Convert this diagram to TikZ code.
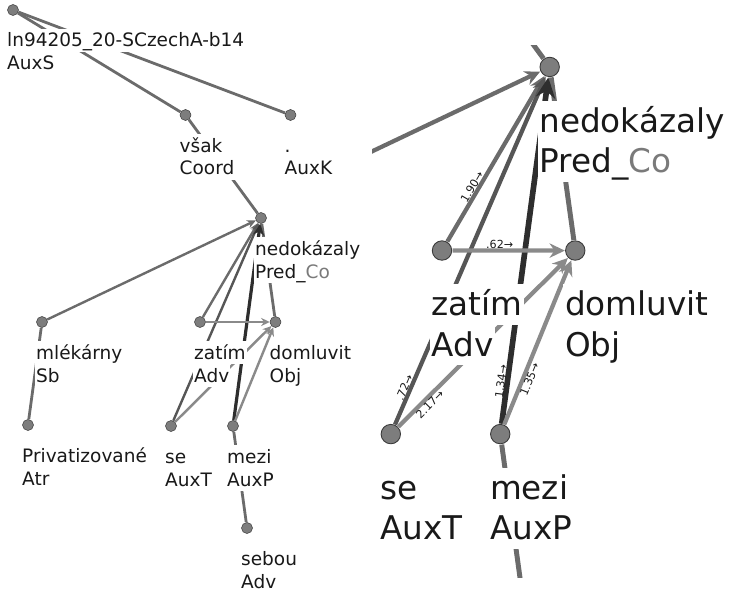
\documentclass[tikz,border=0pt]{standalone}
\usepackage{fontspec}
\setmainfont{DejaVu Sans}
\usetikzlibrary{arrows.meta}

\definecolor{dotfill}{HTML}{7D7D7D}
\definecolor{dotrim}{HTML}{3A3A3A}
\definecolor{edgegray}{HTML}{6B6B6B}
\definecolor{darkedge}{HTML}{2E2E2E}
\definecolor{midedge}{HTML}{565656}
\definecolor{paleedge}{HTML}{8A8A8A}
\definecolor{suffixgray}{HTML}{7A7A7A}

% factor for line widths, bigger in the zoomed view
\newcommand\lw{1}

% the whole tree, every node name gets the prefix #1
\newcommand\deptree[1]{%
% Dots:
\node[vertex] (#1root)  at (13,10)     {};
\node[vertex] (#1vsak)  at (185.5,115) {};
\node[vertex] (#1tecka) at (290.5,115) {};
\node[vertex] (#1ned)   at (261,218)   {};
\node[vertex] (#1mlek)  at (42,322)    {};
\node[vertex] (#1zatim) at (200,322)   {};
\node[vertex] (#1doml)  at (275.5,322) {};
\node[vertex] (#1priv)  at (28,425)    {};
\node[vertex] (#1se)    at (171,426)   {};
\node[vertex] (#1mezi)  at (233,426)   {};
\node[vertex] (#1sebou) at (247,528)   {};
% Tree edges:
\path (#1root) edge[treeedge] (#1vsak) (#1root) edge[treeedge] (#1tecka)
  (#1vsak) edge[treeedge] (#1ned) (#1ned) edge[treeedge] (#1doml)
  (#1mlek) edge[treeedge] (#1priv) (#1mezi) edge[treeedge] (#1sebou);
% Weighted arrows:
\path (#1mlek) edge[wedge] (#1ned) (#1zatim) edge[wedge] (#1ned)
  (#1se) edge[wedge,draw=midedge] (#1ned)
  (#1mezi) edge[wedge,draw=darkedge,line width=\lw*3.2pt] (#1ned)
  (#1zatim) edge[wedge,draw=paleedge] (#1doml)
  (#1se) edge[wedge,draw=paleedge] (#1doml)
  (#1mezi) edge[wedge,draw=paleedge] (#1doml);
% Labels, word above function:
\node[word] (#1rootw)  at (6,47)      {ln94205\_20-SCzechA-b14};
\node[word] (#1roota)  at (6,70)      {AuxS};
\node[word] (#1vsakw)  at (178.5,152) {však};
\node[word] (#1vsaka)  at (178.5,175) {Coord};
\node[word] (#1teckaw) at (283.5,152) {.};
\node[word] (#1teckaa) at (283.5,175) {AuxK};
\node[word] (#1nedw)   at (254,255)   {nedokázaly};
\node[word] (#1neda)   at (254,278)   {Pred\_\textcolor{suffixgray}{Co}};
\node[word] (#1mlekw)  at (35,359)    {mlékárny};
\node[word] (#1mleka)  at (35,382)    {Sb};
\node[word] (#1zatimw) at (193,359)   {zatím};
\node[word] (#1zatima) at (193,382)   {Adv};
\node[word] (#1domlw)  at (268.5,359) {domluvit};
\node[word] (#1domla)  at (268.5,382) {Obj};
\node[word] (#1privw)  at (21,462)    {Privatizované};
\node[word] (#1priva)  at (21,485)    {Atr};
\node[word] (#1sew)    at (164,463)   {se};
\node[word] (#1sea)    at (164,486)   {AuxT};
\node[word] (#1meziw)  at (226,463)   {mezi};
\node[word] (#1mezia)  at (226,486)   {AuxP};
\node[word] (#1sebouw) at (240,565)   {sebou};
\node[word] (#1seboua) at (240,588)   {Adv};
}

\begin{document}
\begin{tikzpicture}[x=1pt,y=-1pt,
>={Stealth[length=0pt 3.6,width=0pt 3.4]},
vertex/.style={
% The dot:
circle,
fill=dotfill,
draw=dotrim,
line width=\lw*0.5pt,
minimum size=11pt,
inner sep=0pt
},
treeedge/.style={draw=edgegray,line width=\lw*2.8pt},
wedge/.style={->,draw=edgegray,line width=\lw*2.4pt},
word/.style={anchor=base west,fill=white,text=black!90,
inner xsep=1pt,inner ysep=0.5pt,text height=17.5pt,text depth=4.5pt,
font=\fontsize{18.5}{23}\selectfont},
weight/.style={sloped,inner sep=1pt,text=black!90,font=\fontsize{6.3}{7}\selectfont}
]
\useasboundingbox (0,0) rectangle (729,594);
% Full tree:
\deptree{}
% Zoomed view of the middle part:
\begin{scope}
\clip (372,46) rectangle (729,577);
\begin{scope}[shift={(89,-317.8)},scale=1.765,transform shape]
\renewcommand\lw{1.765}
\deptree{z}
\path (zzatim) to node[weight,pos=.31,above] {1.90→} (zned)
  (zzatim) to node[weight,pos=.42,above] {.62→} (zdoml)
  (zse) to node[weight,pos=.1,above] {.72→} (zned)
  (zse) to node[weight,pos=.16,below] {2.17→} (zdoml)
  (zmezi) to node[weight,pos=.12,above] {1.34→} (zned)
  (zmezi) to node[weight,pos=.29,below] {1.35→} (zdoml);
\end{scope}
\end{scope}
\end{tikzpicture}
\end{document}
